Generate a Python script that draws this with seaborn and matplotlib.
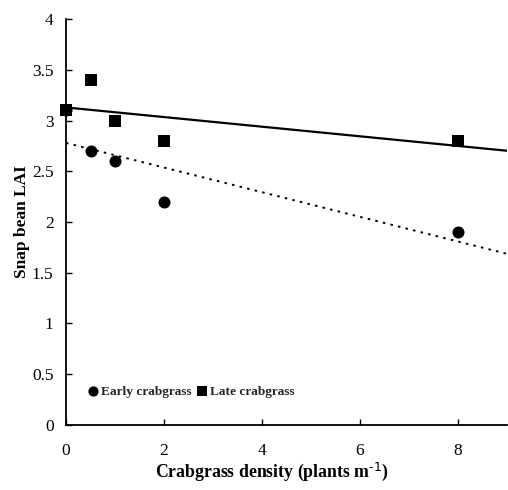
import pandas as pd
import matplotlib.pyplot as plt
import seaborn as sns

sns.set_theme(style="ticks")
plt.rcParams['font.family'] = ['Liberation Serif', 'DejaVu Serif']
plt.rcParams['mathtext.default'] = 'regular'
plt.rcParams['axes.unicode_minus'] = False

density = [0, 0.5, 1, 2, 8]
early_lai = [3.1, 2.7, 2.6, 2.2, 1.9]
late_lai = [3.1, 3.4, 3.0, 2.8, 2.8]
x_ticks = [0, 2, 4, 6, 8]
y_ticks = [0, 0.5, 1, 1.5, 2, 2.5, 3, 3.5, 4]

df = pd.DataFrame({'density': density, 'early': early_lai, 'late': late_lai})

fig = plt.figure(figsize=(5.08, 4.9), dpi=100)
ax = fig.add_axes([0.130, 0.133, 0.868, 0.828])
ax.set_xlim(0, 9)
ax.set_ylim(0, 4)

# fitted lines across the whole axis
sns.regplot(data=df, x='density', y='early', ci=None, truncate=False, scatter=False,
            ax=ax, line_kws={'color': 'black', 'lw': 1.4, 'ls': (0, (1.3, 2.7))})
sns.regplot(data=df, x='density', y='late', ci=None, truncate=False, scatter=False,
            ax=ax, line_kws={'color': 'black', 'lw': 1.6})

sns.scatterplot(data=df, x='density', y='early', marker='o', s=75, color='black',
                edgecolor='black', linewidth=0, ax=ax, label='Early crabgrass',
                zorder=3, clip_on=False)
sns.scatterplot(data=df, x='density', y='late', marker='s', s=75, color='black',
                edgecolor='black', linewidth=0, ax=ax, label='Late crabgrass',
                zorder=4, clip_on=False)

ax.set_xticks(x_ticks)
ax.set_yticks(y_ticks)
ax.set_yticklabels(['%g' % v for v in y_ticks])
ax.tick_params(direction='in', length=4, width=1, labelsize=12.5, pad=9,
               colors='black')
ax.tick_params(axis='x', pad=13)
sns.despine(ax=ax)
for s in ['left', 'bottom']:
    ax.spines[s].set_linewidth(1.3)
    ax.spines[s].set_color('black')

ax.set_xlabel('Crabgrass density (plants m$^{\\text{-1}}$)', fontsize=12.8,
              fontweight='bold', color='black')
ax.set_ylabel('Snap bean LAI', fontsize=12.5, fontweight='bold', color='black')
ax.xaxis.set_label_coords(0.466, -0.088)
ax.yaxis.set_label_coords(-0.082, 0.5)

ax.legend(loc='lower left', bbox_to_anchor=(0.027, 0.05), ncol=2, frameon=False,
          prop={'weight': 'bold', 'size': 9.6}, handletextpad=0.0, columnspacing=0.2,
          markerscale=0.85, borderpad=0, handlelength=1.2)

fig.savefig('out.png', dpi=100, facecolor='white')
